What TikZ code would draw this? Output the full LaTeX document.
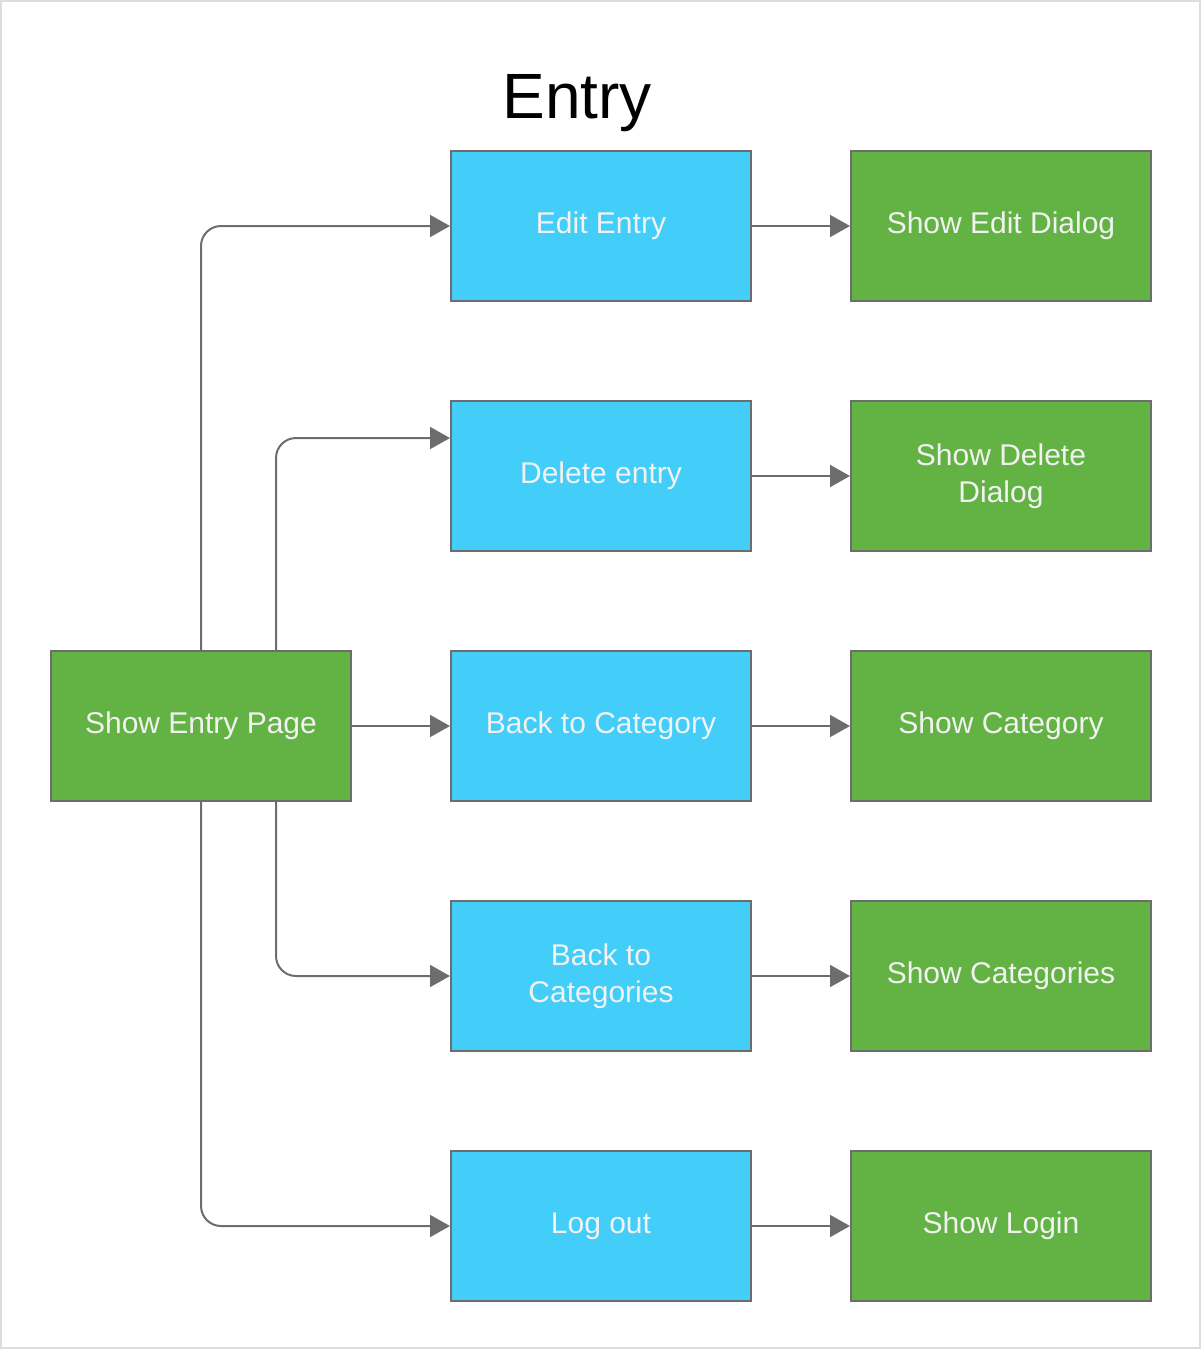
\documentclass[tikz,border=0pt]{standalone}
\usepackage{fontspec}
\setmainfont{Liberation Sans}
\usetikzlibrary{arrows.meta}
\definecolor{boxblue}{HTML}{42CEF8}
\definecolor{boxgreen}{HTML}{63B244}
\definecolor{edgegray}{HTML}{6D6D6D}
\definecolor{txtwhite}{HTML}{F2F2F2}
\definecolor{framegray}{HTML}{DDDDDD}
\tikzset{
  basebox/.style={draw=edgegray, line width=2pt, minimum width=300pt, minimum height=150pt,
    inner sep=0pt, align=center, text=txtwhite, font=\fontsize{30}{37}\selectfont},
  actbox/.style={basebox, fill=boxblue},
  viewbox/.style={basebox, fill=boxgreen},
  conn/.style={draw=edgegray, line width=2pt, -{Triangle[length=20pt, width=22pt]}},
}
\begin{document}
\begin{tikzpicture}[x=1pt, y=-1pt]
\useasboundingbox (0,0) rectangle (1202,1350);
\draw[framegray, line width=2pt] (1,1) rectangle (1200,1348);
\node[font=\fontsize{64}{70}\selectfont, text=black] (title) at (577,103) {Entry};
\node[viewbox] (sep) at (201,726) {Show Entry Page};
\node[actbox] (edit) at (601,226) {Edit Entry};
\node[actbox] (del) at (601,476) {Delete entry};
\node[actbox] (cat) at (601,726) {Back to Category};
\node[actbox] (cats) at (601,976) {Back to\\Categories};
\node[actbox] (logout) at (601,1226) {Log out};
\node[viewbox] (sedit) at (1001,226) {Show Edit Dialog};
\node[viewbox] (sdel) at (1001,476) {Show Delete\\Dialog};
\node[viewbox] (scat) at (1001,726) {Show Category};
\node[viewbox] (scats) at (1001,976) {Show Categories};
\node[viewbox] (slogin) at (1001,1226) {Show Login};
\draw[conn, rounded corners=20pt] (sep.north) |- (edit.west);
\draw[conn, rounded corners=20pt] ([xshift=75pt]sep.north) |- ([yshift=38pt]del.west);
\draw[conn] (sep.east) -- (cat.west);
\draw[conn, rounded corners=20pt] ([xshift=75pt]sep.south) |- (cats.west);
\draw[conn, rounded corners=20pt] (sep.south) |- (logout.west);
\draw[conn] (edit.east) -- (sedit.west);
\draw[conn] (del.east) -- (sdel.west);
\draw[conn] (cat.east) -- (scat.west);
\draw[conn] (cats.east) -- (scats.west);
\draw[conn] (logout.east) -- (slogin.west);
\end{tikzpicture}
\end{document}
